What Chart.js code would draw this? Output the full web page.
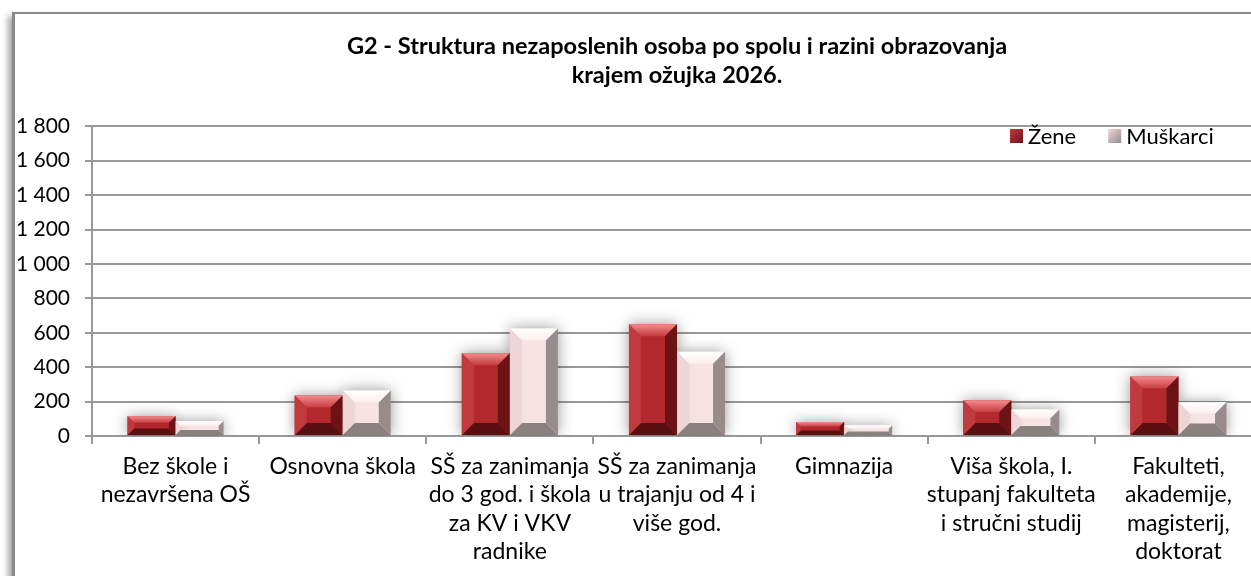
<!DOCTYPE html>
<html>
<head>
<meta charset="utf-8">
<script src="https://cdn.jsdelivr.net/npm/chart.js@4.4.0/dist/chart.umd.min.js"></script>
<style>
html,body{margin:0;padding:0;background:#fff;overflow:hidden;width:1251px;height:576px}
#frame{position:absolute;left:12px;top:12px;width:1400px;height:700px;border-left:3px solid #8a8a8a;border-top:2px solid #8a8a8a;box-shadow:-4px 4px 6px rgba(0,0,0,0.35);background:#fff}
#wrap{position:absolute;left:0;top:0;width:1262px;height:576px}
</style>
</head>
<body>
<div id="frame"></div>
<div id="wrap"><canvas id="c" width="1262" height="576"></canvas></div>
<script>
const categories = [
  ['Bez škole i', 'nezavršena OŠ'],
  ['Osnovna škola'],
  ['SŠ za zanimanja', 'do 3 god. i škola', 'za KV i VKV', 'radnike'],
  ['SŠ za zanimanja', 'u trajanju od 4 i', 'više god.'],
  ['Gimnazija'],
  ['Viša škola, I.', 'stupanj fakulteta', 'i stručni studij'],
  ['Fakulteti,', 'akademije,', 'magisterij,', 'doktorat']
]
const seriesNames = ['Žene', 'Muškarci']
const zene = [115, 235, 481, 650, 81, 208, 346]
const muskarci = [87, 265, 625, 490, 62, 154, 196]
const yMax = 1800
const yStep = 200

// bevel colours per series: face, top, left, right, bottom
const bevel = [
  {face: '#b3282d', top1: '#f28c8c', top2: '#c63c40', left: '#c13a3e', right: '#6c1315', bottom: '#5a0f11'},
  {face: '#f7e3e3', top1: '#ffffff', top2: '#fbeeee', left: '#eed6d6', right: '#978b8b', bottom: '#8a8080'}
]

function fmt(v) {
  return String(v).replace(/\B(?=(\d{3})+(?!\d))/g, ' ')
}

function poly(ctx, pts, fill) {
  ctx.beginPath()
  ctx.moveTo(pts[0][0], pts[0][1])
  for (let i = 1; i < pts.length; i++) ctx.lineTo(pts[i][0], pts[i][1])
  ctx.closePath()
  ctx.fillStyle = fill
  ctx.fill()
}

const bevelBars = {
  id: 'bevelBars',
  beforeDatasetsDraw(chart) {
    const ctx = chart.ctx
    ctx.save()
    ctx.shadowColor = 'rgba(0,0,0,0.4)'
    ctx.shadowBlur = 14
  },
  afterDatasetsDraw(chart) {
    const ctx = chart.ctx
    ctx.restore()
    chart.data.datasets.forEach((ds, i) => {
      const c = bevel[i]
      chart.getDatasetMeta(i).data.forEach(bar => {
        const p = bar.getProps(['x', 'y', 'base', 'width'], true)
        const l = p.x - p.width / 2, r = p.x + p.width / 2, t = p.y, b = p.base
        const h = b - t
        const d = Math.min(12, h * 0.35, p.width * 0.25)
        const g = ctx.createLinearGradient(0, t, 0, t + d)
        g.addColorStop(0, c.top1)
        g.addColorStop(1, c.top2)
        poly(ctx, [[l, t], [r, t], [r - d, t + d], [l + d, t + d]], g)
        poly(ctx, [[l, b], [r, b], [r - d, b - d], [l + d, b - d]], c.bottom)
        poly(ctx, [[l, t], [l + d, t + d], [l + d, b - d], [l, b]], c.left)
        poly(ctx, [[r, t], [r - d, t + d], [r - d, b - d], [r, b]], c.right)
      })
    })
  }
}

const legendBox = {
  id: 'legendBox',
  afterDraw(chart) {
    const ctx = chart.ctx
    const y = 136
    let x = 1010
    ctx.save()
    ctx.font = '22px Lato'
    ctx.textBaseline = 'middle'
    chart.data.datasets.forEach((ds, i) => {
      const c = bevel[i]
      const g = ctx.createLinearGradient(x, y - 7, x + 13, y + 7)
      g.addColorStop(0, c.left)
      g.addColorStop(1, c.right)
      ctx.fillStyle = g
      ctx.fillRect(x, y - 7, 13, 14)
      ctx.fillStyle = '#000'
      ctx.fillText(ds.label, x + 18, y + 1)
      x += 18 + ctx.measureText(ds.label).width + 32
    })
    ctx.restore()
  }
}

new Chart(document.getElementById('c'), {
  type: 'bar',
  data: {
    labels: categories,
    datasets: [
      {label: seriesNames[0], data: zene, backgroundColor: bevel[0].face, borderWidth: 0},
      {label: seriesNames[1], data: muskarci, backgroundColor: bevel[1].face, borderWidth: 0}
    ]
  },
  options: {
    responsive: false,
    animation: false,
    events: [],
    layout: {padding: 0},
    datasets: {bar: {barPercentage: 1, categoryPercentage: 0.575}},
    plugins: {
      legend: {display: false},
      tooltip: {enabled: false},
      title: {
        display: true,
        fullSize: false,
        text: ['G2 - Struktura nezaposlenih osoba po spolu i razini obrazovanja', 'krajem ožujka 2026.'],
        color: '#000',
        font: {family: 'Lato', size: 23.5, weight: 'bold', lineHeight: 1.24},
        padding: {top: 32, bottom: 36}
      }
    },
    scales: {
      x: {
        grid: {drawOnChartArea: false, tickLength: 8, color: '#999', lineWidth: 2},
        border: {color: '#999', width: 2},
        ticks: {font: {family: 'Lato', size: 23, lineHeight: 1.24}, color: '#000', padding: 8, maxRotation: 0, autoSkip: false},
        afterFit(s) { s.height = 140 }
      },
      y: {
        min: 0,
        max: yMax,
        ticks: {stepSize: yStep, font: {family: 'Lato', size: 21}, color: '#000', padding: 15, callback: v => fmt(v)},
        grid: {color: '#999', lineWidth: 2, tickLength: 7},
        border: {color: '#999', width: 2},
        afterFit(s) { s.width = 92 }
      }
    }
  },
  plugins: [bevelBars, legendBox]
})
</script>
</body>
</html>
